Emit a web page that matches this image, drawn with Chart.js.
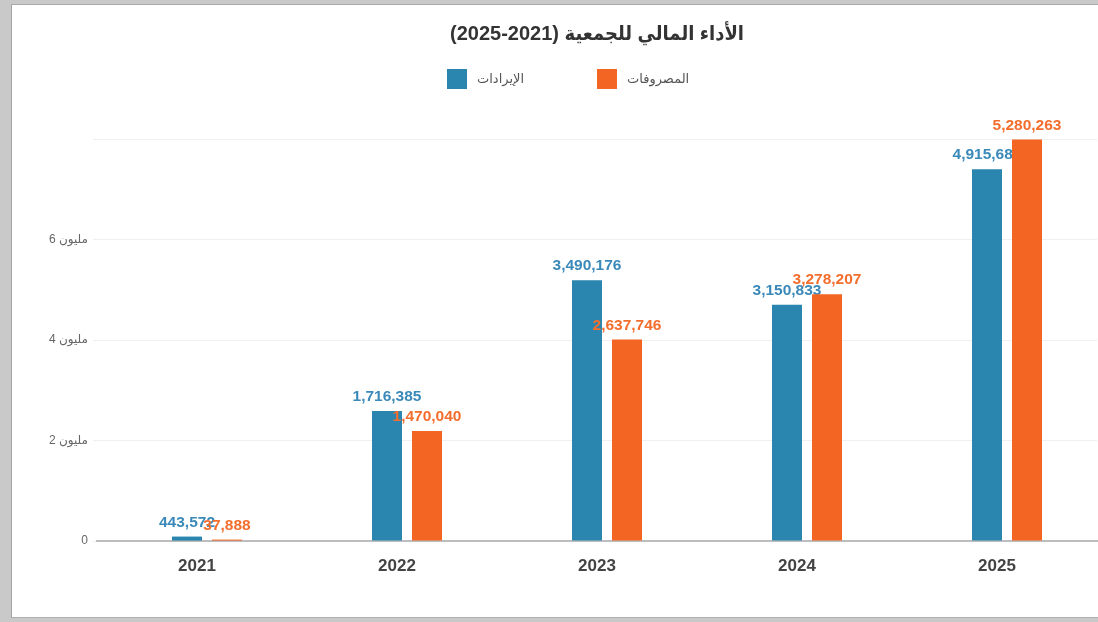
<!DOCTYPE html>
<html lang="ar">
<head>
<meta charset="utf-8">
<title>الأداء المالي للجمعية</title>
<script src="https://cdn.jsdelivr.net/npm/chart.js@4.4.1/dist/chart.umd.min.js"></script>
<style>
  html, body { margin: 0; padding: 0; width: 1098px; height: 622px; overflow: hidden; background: #c9c9c9; }
  .card { position: absolute; left: 11px; top: 4px; width: 1200px; height: 612px; background: #fff;
          border-left: 1px solid #a5a5a5; border-top: 1px solid #a9a9a9; border-bottom: 1px solid #b0b0b0; }
  #chart { position: absolute; left: 0; top: 0; }
</style>
</head>
<body>
<div class="card"></div>
<canvas id="chart" width="1194" height="622"></canvas>
<script>
const FONT = "'Liberation Sans', 'DejaVu Sans', Arial, sans-serif";
const TITLE_FONT = "'Liberation Sans', 'DejaVu Sans Condensed', 'DejaVu Sans', Arial, sans-serif";

const years = ["2021", "2022", "2023", "2024", "2025"];
// bar heights as drawn against the axis (millions)
const revenueBars = [0.09, 2.59, 5.19, 4.70, 7.40];
const expenseBars = [0.03, 2.19, 4.01, 4.91, 7.99];
// totals printed above the bars
const revenueTotals = [443572, 1716385, 3490176, 3150833, 4915680];
const expenseTotals = [37888, 1470040, 2637746, 3278207, 5280263];
const yTickValues = [0, 2, 4, 6, 8];
const yTickLabels = ["0", "2 مليون", "4 مليون", "6 مليون", ""];

const blue = "#2a86ae";
const orange = "#f26522";

function drawTotals(chart, datasetIndex, totals, color) {
  const ctx = chart.ctx;
  const meta = chart.getDatasetMeta(datasetIndex);
  ctx.save();
  ctx.font = "bold 15.5px " + FONT;
  ctx.fillStyle = color;
  ctx.textAlign = "center";
  ctx.textBaseline = "alphabetic";
  meta.data.forEach((bar, i) => {
    ctx.fillText(totals[i].toLocaleString("en-US"), bar.x, bar.y - 10);
  });
  ctx.restore();
}

// revenue labels go under the bars so the orange bars can cover them, expense labels on top
const valueLabels = {
  id: "valueLabels",
  beforeDatasetsDraw(chart) {
    drawTotals(chart, 1, revenueTotals, "#3a89b9");
  },
  afterDatasetsDraw(chart) {
    drawTotals(chart, 3, expenseTotals, "#f36e2d");
  },
};

const legendRow = {
  id: "legendRow",
  afterDraw(chart) {
    const { ctx, chartArea } = chart;
    const items = chart.data.datasets.filter((ds) => ds.label);
    const startX = (chartArea.left + chartArea.right) / 2 - 150;
    ctx.save();
    ctx.font = "13px " + FONT;
    ctx.textBaseline = "middle";
    ctx.textAlign = "left";
    items.forEach((ds, i) => {
      const x = startX + i * 150;
      ctx.fillStyle = ds.backgroundColor;
      ctx.fillRect(x, 69, 20, 20);
      ctx.fillStyle = "#555";
      ctx.fillText(ds.label, x + 30, 79);
    });
    ctx.restore();
  },
};

const empty = years.map(() => null);

new Chart(document.getElementById("chart"), {
  type: "bar",
  data: {
    labels: years,
    datasets: [
      { label: "", data: empty }, // spacer
      { label: "الإيرادات", data: revenueBars, backgroundColor: blue },
      { label: "", data: empty }, // spacer
      { label: "المصروفات", data: expenseBars, backgroundColor: orange },
    ],
  },
  options: {
    responsive: false,
    animation: false,
    datasets: {
      bar: { categoryPercentage: 0.4, barPercentage: 1.5 },
    },
    layout: { padding: { left: 0, right: 97, top: 0, bottom: 37.5 } },
    plugins: {
      legend: { display: false },
      tooltip: { enabled: false },
      title: {
        display: true,
        fullSize: false,
        text: "(2025-2021) الأداء المالي للجمعية",
        color: "#333",
        font: { family: TITLE_FONT, size: 20, weight: "bold" },
        padding: { top: 22, bottom: 93 },
      },
    },
    scales: {
      x: {
        grid: { display: false },
        border: { color: "#bdbdbd", width: 2 },
        ticks: { color: "#444", font: { family: FONT, size: 17, weight: "bold" }, padding: 7.5 },
      },
      y: {
        min: 0,
        max: 8,
        afterBuildTicks: (axis) => {
          axis.ticks = yTickValues.map((v) => ({ value: v }));
        },
        afterFit: (axis) => {
          axis.width = 97;
        },
        grid: { color: "#f0f0f0", tickLength: 4 },
        border: { display: false },
        ticks: {
          color: "#666",
          font: { family: FONT, size: 12 },
          padding: 5,
          callback: (value, index) => yTickLabels[index],
        },
      },
    },
  },
  plugins: [valueLabels, legendRow],
});
</script>
</body>
</html>
